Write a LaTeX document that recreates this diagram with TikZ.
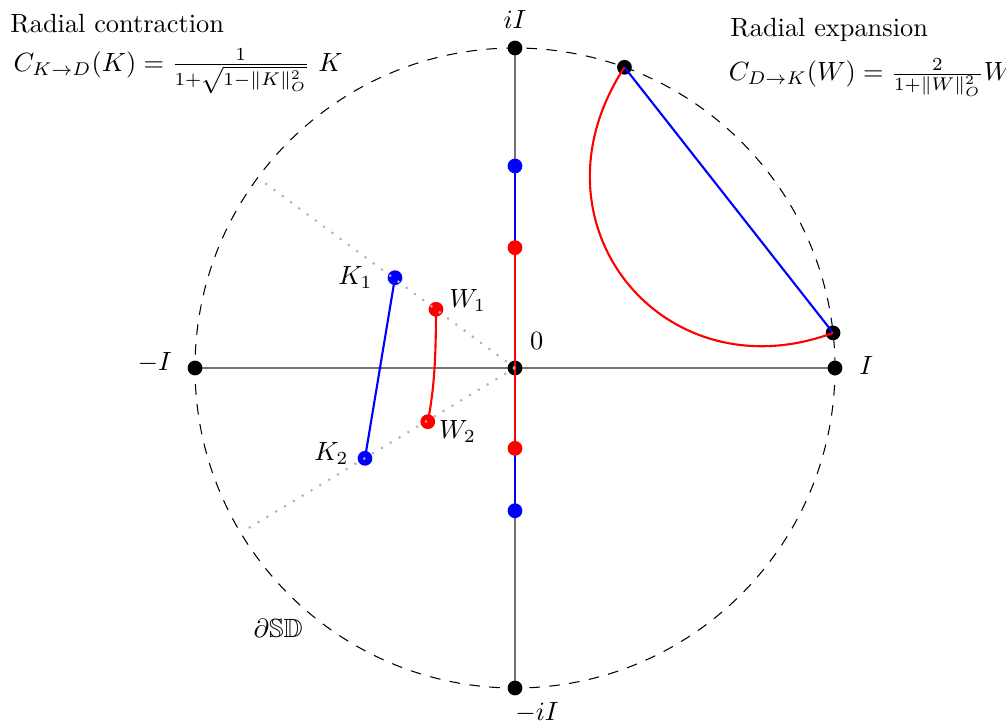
\documentclass[tikz,border=0pt]{standalone}
\usepackage{amssymb}
\usetikzlibrary{positioning}
\pgfdeclarelayer{back}
\pgfsetlayers{back,main}
\tikzstyle{blob} = [circle, fill=black, inner sep=0pt, minimum size=5.6pt]
\tikzstyle{bblob} = [blob, fill=blue]
\tikzstyle{rblob} = [blob, fill=red]
\tikzstyle{axis} = [draw=black!55, semithick]
\tikzstyle{rim} = [draw, dash pattern=on 4pt off 3.6pt]
\tikzstyle{ray} = [draw=black!30, line width=0.8pt, dash pattern=on 0.8pt off 3.1pt]
\tikzstyle{kline} = [draw=blue, thick]
\tikzstyle{wline} = [draw=red, thick]
\tikzstyle{caption} = [anchor=west, inner sep=0.5pt]

\begin{document}
\begin{tikzpicture}[scale=1.0667]
        \useasboundingbox (-6.4375,-4.425) rectangle (6.1375,4.6);
        % Nodes
        \node [blob] (O) at (0,0) {};
        \node [blob] (I) at (4,0) {};
        \node [blob] (mI) at (-4,0) {};
        \node [blob] (iI) at (0,4) {};
        \node [blob] (miI) at (0,-4) {};
        \node [blob] (P) at (70:4) {};
        \node [blob] (Q) at (6.3:4) {};
        \node [bblob] (bt) at (0,2.525) {};
        \node [bblob] (bb) at (0,-1.784) {};
        \node [rblob] (rt) at (0,1.504) {};
        \node [rblob] (rb) at (0,-1.004) {};
        \node [bblob] (K1) at (-1.5,1.129) {};
        \node [bblob] (K2) at (-1.875,-1.129) {};
        \node [rblob] (W1) at (-0.9875,0.734) {};
        \node [rblob] (W2) at (-1.09,-0.671) {};
        \coordinate (e1) at (143.5:3.9);
        \coordinate (e2) at (211:3.95);

        % Labels
        \node [above=0.8pt of iI] (liI) {$iI$};
        \node [below=-1pt of miI, xshift=8.3pt] (lmiI) {$-iI$};
        \node [left=2.3pt of mI, yshift=1.9pt] (lmI) {$-I$};
        \node [right=2.7pt of I, yshift=1.1pt] (lI) {$I$};
        \node [above right=1.2pt and 0.1pt of O] (lO) {$0$};
        \node [left=2pt of K1] (lK1) {$K_1$};
        \node [left=-0.3pt of K2, yshift=2pt] (lK2) {$K_2$};
        \node [right=-1.5pt of W1, yshift=3.5pt] (lW1) {$W_1$};
        \node [right=-2.2pt of W2, yshift=-3.8pt] (lW2) {$W_2$};
        \node (dSD) at (-2.96,-3.25) {$\partial\mathbb{S}\mathbb{D}$};

        % Captions
        \node [caption] (ctitle) at (-6.33,4.3) {Radial contraction};
        \node [caption] (cform) at (-6.29,3.71) {$C_{K\to D}(K)=\frac{1}{1+\sqrt{1-\|K\|_O^2}}\ K$};
        \node [caption] (etitle) at (2.67,4.23) {Radial expansion};
        \node [caption] (eform) at (2.65,3.63) {$C_{D\to K}(W)=\frac{2}{1+\|W\|_O^2}W$};

        % Edges
        \begin{pgfonlayer}{back}
            \path [axis] (mI.center) -- (I.center);
            \path [axis] (miI.center) -- (iI.center);
            \path [rim] (O.center) circle (4);
            \path [kline] (bt.center) -- (bb.center);
        \end{pgfonlayer}
        \path [wline] (rt.center) -- (rb.center);
        \path [kline] (K1.center) -- (K2.center);
        \path [wline] (W1.center) .. controls +(0,-0.6) and +(0.08,0.4) .. (W2.center);
        \path [kline] (P.center) -- (Q.center);
        \path [wline] (P.center) .. controls (0.09,1.81) and (1.85,-0.35) .. (Q.center);
        \path [ray] (O.center) -- (e1);
        \path [ray] (O.center) -- (e2);
    \end{tikzpicture}
\end{document}
